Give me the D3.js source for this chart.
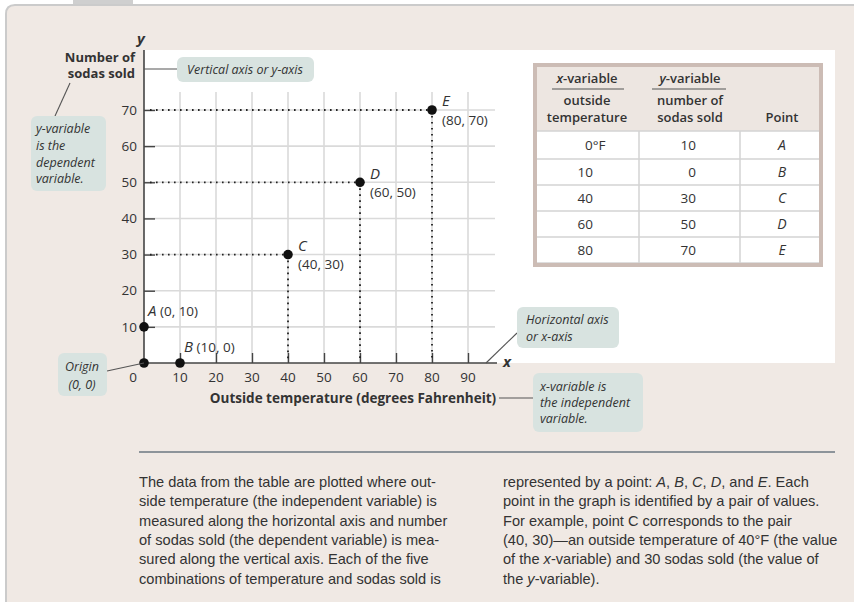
<!DOCTYPE html>
<html><head><meta charset="utf-8">
<script src="https://cdn.jsdelivr.net/npm/d3@7"></script>
<style>
html,body{margin:0;padding:0;background:#fff;}
svg{display:block;}
</style></head>
<body>
<script>
// ---- data ----
const pointNames = ["A","B","C","D","E"];
const temperature = [0,10,40,60,80];
const sodas = [10,0,30,50,70];
const xTicks = [0,10,20,30,40,50,60,70,80,90];
const yTicks = [10,20,30,40,50,60,70];
const tempLabels = ["0°F","10","40","60","80"];
const paraLeft = [
 "The data from the table are plotted where out-",
 "side temperature (the independent variable) is",
 "measured along the horizontal axis and number",
 "of sodas sold (the dependent variable) is mea-",
 "sured along the vertical axis. Each of the five",
 "combinations of temperature and sodas sold is"];
const paraRight = [
 [["represented by a point: ",0],["A",1],[", ",0],["B",1],[", ",0],["C",1],[", ",0],["D",1],[", and ",0],["E",1],[". Each",0]],
 [["point in the graph is identified by a pair of values.",0]],
 [["For example, point ",0],["C",0],[" corresponds to the pair",0]],
 [["(40, 30)—an outside temperature of 40°F (the value",0]],
 [["of the ",0],["x",1],["-variable) and 30 sodas sold (the value of",0]],
 [["the ",0],["y",1],["-variable).",0]]];

const W=854,H=602;
const svg=d3.select("body").append("svg").attr("width",W).attr("height",H);
const F="'Open Sans', Lato, sans-serif";
const beige="#f0e9e4", callout="#d8e3e0", ink="#333";

// page / panel
svg.append("rect").attr("width",W).attr("height",H).attr("fill","#fff");
svg.append("rect").attr("x",73).attr("y",-2).attr("width",60).attr("height",8).attr("fill","#cfcfcf");
svg.append("path").attr("d",`M6,${H+5} L6,14 Q6,5 15,5 L${W+5},5 L${W+5},${H+5} Z`).attr("fill",beige).attr("stroke","#cbcbcb").attr("stroke-width",2);

// plot white area
svg.append("rect").attr("x",144).attr("y",50).attr("width",835-144).attr("height",363-50).attr("fill","#fff");

const x=d3.scaleLinear().domain([0,90]).range([144,468]);
const y=d3.scaleLinear().domain([0,70]).range([363,110]);

// grid
const g=svg.append("g");
g.selectAll(".vg").data(xTicks.slice(1)).join("line")
 .attr("x1",d=>x(d)).attr("x2",d=>x(d)).attr("y1",92).attr("y2",363)
 .attr("stroke","#dadada").attr("stroke-width",1.6);
g.selectAll(".hg").data(yTicks).join("line")
 .attr("x1",144).attr("x2",495).attr("y1",d=>y(d)).attr("y2",d=>y(d))
 .attr("stroke","#dadada").attr("stroke-width",1.6);

// axes
const yAxis=d3.axisRight(y).tickValues(yTicks).tickSize(11).tickFormat("");
const ya=svg.append("g").attr("transform","translate(144,0)").call(yAxis);
ya.select(".domain").remove();
ya.selectAll("line").attr("stroke","#444").attr("stroke-width",1.4);
const xAxis=d3.axisTop(x).tickValues(xTicks.slice(1)).tickSize(10).tickFormat("");
const xa=svg.append("g").attr("transform","translate(0,363)").call(xAxis);
xa.select(".domain").remove();
xa.selectAll("line").attr("stroke","#444").attr("stroke-width",1.4);
svg.append("line").attr("x1",144).attr("x2",144).attr("y1",50).attr("y2",363.7).attr("stroke","#444").attr("stroke-width",1.6);
svg.append("line").attr("x1",143.3).attr("x2",497).attr("y1",363).attr("y2",363).attr("stroke","#444").attr("stroke-width",1.6);

// tick labels
svg.selectAll(".yl").data(yTicks).join("text").attr("x",137).attr("y",d=>y(d)).attr("dy","0.35em")
 .attr("text-anchor","end").attr("font-family",F).attr("font-size",13.5).attr("fill",ink).text(d=>d);
svg.selectAll(".xl").data(xTicks).join("text").attr("x",d=>d===0?133:x(d)).attr("y",377).attr("dy","0.35em")
 .attr("text-anchor","middle").attr("font-family",F).attr("font-size",13.5).attr("fill",ink).text(d=>d);

// axis titles
svg.append("text").attr("x",141).attr("y",39).attr("dy","0.35em").attr("text-anchor","middle")
 .attr("font-family",F).attr("font-size",15).attr("font-style","italic").attr("font-weight","bold").attr("fill",ink).text("y");
svg.append("text").attr("x",507).attr("y",362).attr("dy","0.35em").attr("text-anchor","middle")
 .attr("font-family",F).attr("font-size",15).attr("font-style","italic").attr("font-weight","bold").attr("fill",ink).text("x");
["Number of","sodas sold"].forEach((t,i)=>svg.append("text").attr("x",135).attr("y",57+i*16.5).attr("dy","0.35em")
 .attr("text-anchor","end").attr("font-family",F).attr("font-size",13).attr("font-weight","bold").attr("fill",ink).text(t));
svg.append("text").attr("x",353).attr("y",398).attr("dy","0.35em").attr("text-anchor","middle")
 .attr("font-family",F).attr("font-size",13.5).attr("font-weight","bold").attr("fill",ink).text("Outside temperature (degrees Fahrenheit)");

// data
const pts=pointNames.map((n,i)=>({n,t:temperature[i],s:sodas[i]}));
const dotted=svg.append("g").attr("stroke","#222").attr("stroke-width",1.8).attr("stroke-dasharray","1.6,4.4");
pts.filter(d=>d.t>=40).forEach(d=>{
  dotted.append("line").attr("x1",x(0)+6).attr("x2",x(d.t)).attr("y1",y(d.s)).attr("y2",y(d.s));
  dotted.append("line").attr("x1",x(d.t)).attr("x2",x(d.t)).attr("y1",y(d.s)).attr("y2",y(0)-2);
});
svg.append("circle").attr("cx",x(0)).attr("cy",y(0)).attr("r",4.8).attr("fill","#111");
svg.selectAll(".pt").data(pts).join("circle").attr("cx",d=>x(d.t)).attr("cy",d=>y(d.s)).attr("r",4.8).attr("fill","#111");

// point labels
const coordStr=d=>`(${d.t}, ${d.s})`;
pts.forEach(d=>{
  const px=x(d.t),py=y(d.s);
  if(d.t<=10){
    const t=svg.append("text").attr("x",px+4).attr("y",py-16).attr("dy","0.35em").attr("font-family",F).attr("font-size",13.5).attr("fill",ink);
    t.append("tspan").attr("font-style","italic").attr("font-size",15).text(d.n);
    t.append("tspan").text(" "+coordStr(d));
  } else {
    svg.append("text").attr("x",px+10).attr("y",py-9).attr("dy","0.35em").attr("font-family",F).attr("font-size",15)
      .attr("font-style","italic").attr("fill",ink).text(d.n);
    svg.append("text").attr("x",px+10).attr("y",py+10).attr("dy","0.35em").attr("font-family",F).attr("font-size",13.5)
      .attr("fill",ink).text(coordStr(d));
  }
});

// callouts
function box(x0,y0,w,h,lines,tx,ty,lh,anchor){
  svg.append("rect").attr("x",x0).attr("y",y0).attr("width",w).attr("height",h).attr("rx",6).attr("fill",callout);
  lines.forEach((l,i)=>svg.append("text").attr("x",tx).attr("y",ty+i*lh).attr("dy","0.35em").attr("text-anchor",anchor||"start")
   .attr("font-family",F).attr("font-size",12.5).attr("font-style","italic").attr("fill",ink).text(l));
}
function conn(x1,y1,x2,y2){svg.append("line").attr("x1",x1).attr("y1",y1).attr("x2",x2).attr("y2",y2).attr("stroke","#555").attr("stroke-width",1.1);}
conn(144,69,177,69);
box(177,57,137,25,["Vertical axis or y-axis"],245,70,0,"middle");
conn(70,83,55,116);
box(31,116,75,75,["y-variable","is the","dependent","variable."],36,129,16.7);
conn(107,371,144,363);
box(58,353,49,43,["Origin","(0, 0)"],82,367,18,"middle");
conn(517,333,486,363);
box(517,307,102,41,["Horizontal axis","or x-axis"],526,320,17);
conn(499,398,533,398);
box(533,373,110,59,["x-variable is","the independent","variable."],540,387,16);

// table
const tb=svg.append("g");
const tx0=535,tx1=821,ty0=65,ty1=265,c1=639,c2=740;
const rowB=[131,159,185,211,237,263];
tb.append("rect").attr("x",tx0).attr("y",ty0).attr("width",tx1-tx0).attr("height",ty1-ty0).attr("fill","#fff");
tb.append("rect").attr("x",tx0).attr("y",ty0).attr("width",tx1-tx0).attr("height",rowB[0]-ty0).attr("fill","#ede6e1");
tb.selectAll(".rl").data(rowB).join("line").attr("x1",tx0).attr("x2",tx1).attr("y1",d=>d).attr("y2",d=>d).attr("stroke","#d3d3d3").attr("stroke-width",1.5);
[c1,c2].forEach(cx=>tb.append("line").attr("x1",cx).attr("x2",cx).attr("y1",rowB[0]).attr("y2",ty1).attr("stroke","#d3d3d3").attr("stroke-width",1.5));
tb.append("rect").attr("x",tx0).attr("y",ty0).attr("width",tx1-tx0).attr("height",ty1-ty0).attr("fill","none").attr("stroke","#ccbcb5").attr("stroke-width",4);
const hT=(cx,cy)=>tb.append("text").attr("x",cx).attr("y",cy).attr("dy","0.35em").attr("text-anchor","middle")
  .attr("font-family",F).attr("font-size",13).attr("font-weight",600).attr("fill",ink);
let e=hT(587,78); e.append("tspan").attr("font-style","italic").text("x"); e.append("tspan").text("-variable");
e=hT(690,78); e.append("tspan").attr("font-style","italic").text("y"); e.append("tspan").text("-variable");
tb.append("line").attr("x1",552).attr("x2",624).attr("y1",89).attr("y2",89).attr("stroke","#555").attr("stroke-width",1.2);
tb.append("line").attr("x1",652).attr("x2",726).attr("y1",89).attr("y2",89).attr("stroke","#555").attr("stroke-width",1.2);
hT(587,100.5).text("outside"); hT(587,117.5).text("temperature");
hT(690,100.5).text("number of"); hT(690,117.5).text("sodas sold");
hT(782,117.5).text("Point");
const rowC=rowB.slice(0,5).map((b,i)=>(b+rowB[i+1])/2);
tb.selectAll(".c1").data(tempLabels).join("text").attr("x",(d,i)=>i===0?585:593).attr("y",(d,i)=>rowC[i]).attr("dy","0.35em")
 .attr("text-anchor",(d,i)=>i===0?"start":"end").attr("font-family",F).attr("font-size",13.5).attr("fill",ink).text(d=>d);
tb.selectAll(".c2").data(sodas).join("text").attr("x",696).attr("y",(d,i)=>rowC[i]).attr("dy","0.35em")
 .attr("text-anchor","end").attr("font-family",F).attr("font-size",13.5).attr("fill",ink).text(d=>d);
tb.selectAll(".c3").data(pointNames).join("text").attr("x",782).attr("y",(d,i)=>rowC[i]).attr("dy","0.35em")
 .attr("text-anchor","middle").attr("font-family",F).attr("font-size",14).attr("font-style","italic").attr("fill",ink).text(d=>d);

// rule + paragraphs
svg.append("line").attr("x1",139).attr("x2",835).attr("y1",452).attr("y2",452).attr("stroke","#8d949a").attr("stroke-width",2);
const PF="'Liberation Sans', Arial, sans-serif";
paraLeft.forEach((l,i)=>svg.append("text").attr("x",139).attr("y",482+i*19.3).attr("dy","0.35em")
 .attr("font-family",PF).attr("font-size",14.6).attr("fill",ink).text(l));
paraRight.forEach((parts,i)=>{
  const t=svg.append("text").attr("x",503).attr("y",482+i*19.3).attr("dy","0.35em").attr("font-family",PF).attr("font-size",14.6).attr("fill",ink);
  parts.forEach(p=>t.append("tspan").attr("font-style",p[1]?"italic":"normal").text(p[0]));
});
</script>
</body></html>
